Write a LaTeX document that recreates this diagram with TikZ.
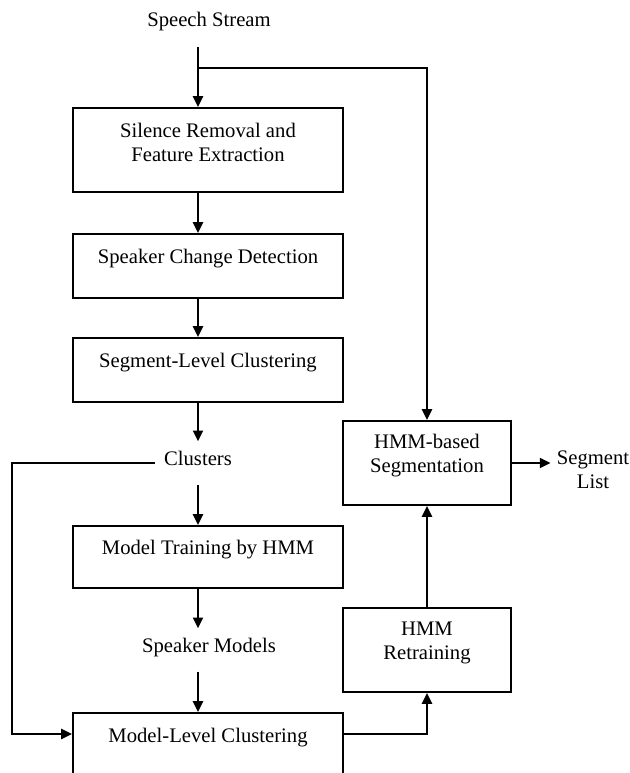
\documentclass[tikz,border=0pt]{standalone}
\usepackage{fontspec}
\setmainfont{Liberation Serif}
\usetikzlibrary{arrows.meta}
\tikzset{box/.style={draw,line width=1.42pt,minimum width=6.75cm,minimum height=1.6cm,inner sep=0pt},tallbox/.style={box,minimum height=2.1cm},hmmbox/.style={tallbox,minimum width=4.2cm},boxtext/.style={align=center,yshift=0.18cm},term/.style={inner sep=0.225cm,text height=0.36cm,text depth=0.26cm},edge/.style={-{Triangle[length=0.27cm,width=0.25cm]},line width=1.42pt}}

\begin{document}
\begin{tikzpicture}[font=\fontsize{14.7}{17}\selectfont]
\useasboundingbox (0,0) rectangle (15.725,-19.325);
\clip (0,0) rectangle (15.725,-19.325);
\coordinate (spine) at (4.95,0);
\coordinate (loop) at (0.3,0);
\node[term] (stream) at (5.225,-0.625) {Speech Stream};
\node[tallbox,label={[boxtext]center:{Silence Removal and\\Feature Extraction}}] (silence) at (5.2,-3.75) {};
\node[box,label={[boxtext]center:Speaker Change Detection}] (change) at (5.2,-6.65) {};
\node[box,label={[boxtext]center:Segment-Level Clustering}] (seglevel) at (5.2,-9.25) {};
\node[term] (clusters) at (4.95,-11.575) {Clusters};
\node[box,minimum height=1.55cm,label={[boxtext]center:Model Training by HMM}] (training) at (5.2,-13.925) {};
\node[term] (spkmodels) at (5.225,-16.25) {Speaker Models};
\node[box,label={[boxtext]center:Model-Level Clustering}] (modelclust) at (5.2,-18.625) {};
\node[hmmbox,label={[boxtext]center:{HMM-based\\Segmentation}}] (hmmseg) at (10.675,-11.575) {};
\node[hmmbox,label={[boxtext]center:{HMM\\Retraining}}] (retrain) at (10.675,-16.25) {};
\node[align=center,inner sep=0.15cm] (seglist) at (14.825,-11.75) {Segment\\List};
\coordinate (split) at (4.95,-1.7);
\draw[edge] (stream.south -| spine)--(silence.north -| spine);
\draw[edge] (split)-|(hmmseg.north);
\draw[edge] (silence.south -| spine)--(change.north -| spine);
\draw[edge] (change.south -| spine)--(seglevel.north -| spine);
\draw[edge] (seglevel.south -| spine)--(clusters);
\draw[edge] (clusters)--(training.north -| spine);
\draw[edge] (training.south -| spine)--(spkmodels.north -| spine);
\draw[edge] (spkmodels.south -| spine)--(modelclust.north -| spine);
\draw[edge] (clusters.west)--(clusters.west -| loop)|-([yshift=0.275cm]modelclust.west);
\draw[edge] ([yshift=0.275cm]modelclust.east)-|(retrain.south);
\draw[edge] (retrain)--(hmmseg);
\draw[edge] (hmmseg.east)--(hmmseg.east -| seglist.west);
\end{tikzpicture}
\end{document}
